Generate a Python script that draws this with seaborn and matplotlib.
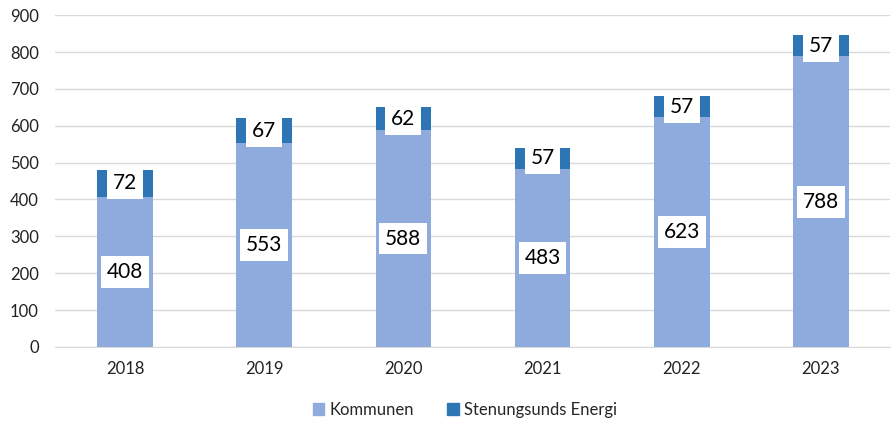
import numpy as np
import pandas as pd
import matplotlib.pyplot as plt
import seaborn as sns
from matplotlib.patches import Patch

sns.set_style("white")
plt.rcParams['font.family'] = ['Lato', 'DejaVu Sans']

years = ['2018', '2019', '2020', '2021', '2022', '2023']
kommunen = [408, 553, 588, 483, 623, 788]
energi = [72, 67, 62, 57, 57, 57]

c_komm = '#8faadc'
c_energi = '#2e75b6'

df = pd.DataFrame({'year': years, 'Kommunen': kommunen, 'Energi': energi})
df['total'] = df['Kommunen'] + df['Energi']

fig = plt.figure(figsize=(8.94, 4.21), dpi=100)
ax = fig.add_axes([0.062, 0.176, 0.934, 0.788])

sns.barplot(data=df, x='year', y='total', color=c_energi, saturation=1,
            width=0.40, linewidth=0, ax=ax, zorder=2)
sns.barplot(data=df, x='year', y='Kommunen', color=c_komm, saturation=1,
            width=0.40, linewidth=0, ax=ax, zorder=3)

box = dict(boxstyle='square,pad=0.28', fc='white', ec='none')
for i, row in df.iterrows():
    ax.text(i, row['Kommunen'] / 2, str(row['Kommunen']), ha='center', va='center',
            fontsize=15, color='black', bbox=box, zorder=5)
    ax.text(i, row['Kommunen'] + row['Energi'] / 2, str(row['Energi']), ha='center',
            va='center', fontsize=15, color='black', bbox=box, zorder=5)

ax.set_ylim(0, 900)
ax.set_yticks(range(0, 901, 100))
ax.set_xlim(-0.5, 5.5)
ax.yaxis.grid(True, color='#d9d9d9', linewidth=1, zorder=0)
ax.set_axisbelow(True)
ax.set_xlabel('')
ax.set_ylabel('')
for s in ['top', 'right', 'left']:
    ax.spines[s].set_visible(False)
ax.spines['bottom'].set_color('#d9d9d9')
ax.tick_params(axis='both', length=0, labelsize=12, colors='#222222')
ax.tick_params(axis='x', pad=10)
ax.tick_params(axis='y', pad=12)

handles = [Patch(color=c_komm, label='Kommunen'),
           Patch(color=c_energi, label='Stenungsunds Energi')]
fig.legend(handles=handles, loc='center', bbox_to_anchor=(0.52, 0.026), ncol=2,
           frameon=False, fontsize=12, handlelength=0.7, handleheight=0.7,
           handletextpad=0.3, columnspacing=2.0)

fig.savefig('out.png', dpi=100)
